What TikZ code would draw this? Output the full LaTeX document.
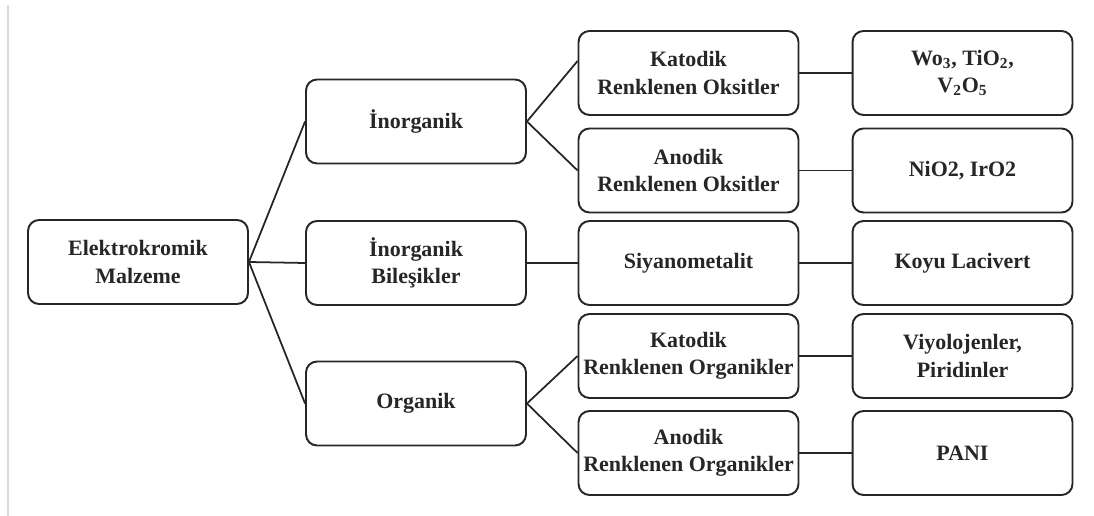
\documentclass[tikz,border=0pt]{standalone}
\usepackage{fontspec}
\setmainfont{Liberation Serif}

\tikzset{
  kutu/.style={draw=black!85, line width=1.1pt, rounded corners=0.22cm,
    minimum width=4.4cm, minimum height=1.68cm, inner sep=1pt, align=center,
    text=black!85, font=\bfseries\fontsize{12.5}{15.4}\selectfont},
  bag/.style={draw=black!85, line width=1pt}
}

\begin{document}
\begin{tikzpicture}[x=0.02cm, y=-0.02cm]
                % Page frame
                \useasboundingbox (0,0) rectangle (1094,516);
                \draw[black!15, line width=0.6pt] (8,5) -- (8,516);

                % Root
                \node[kutu] (malzeme) at (138,262) {Elektrokromik\\Malzeme};

                % First level
                \node[kutu] (inorg) at (416,121.5) {İnorganik};
                \node[kutu] (bilesik) at (416,263) {İnorganik\\Bileşikler};
                \node[kutu] (organik) at (416,403.5) {Organik};

                % Second level
                \node[kutu] (katoks) at (688.5,73) {Katodik\\Renklenen Oksitler};
                \node[kutu] (anoks) at (688.5,170.5) {Anodik\\Renklenen Oksitler};
                \node[kutu] (siyano) at (688.5,263) {Siyanometalit};
                \node[kutu] (katorg) at (688.5,356) {Katodik\\Renklenen Organikler};
                \node[kutu] (anorg) at (688.5,453) {Anodik\\Renklenen Organikler};

                % Examples
                \node[kutu] (wo) at (962.5,73) {Wo\textsubscript{3}, TiO\textsubscript{2},\\V\textsubscript{2}O\textsubscript{5}};
                \node[kutu] (nio) at (962.5,170.5) {NiO2, IrO2};
                \node[kutu] (koyu) at (962.5,263) {Koyu Lacivert};
                \node[kutu] (viyo) at (962.5,356) {Viyolojenler,\\Piridinler};
                \node[kutu] (pani) at (962.5,453) {PANI};

                % Connectors
                \foreach \n in {inorg, bilesik, organik} {
                    \draw[bag] (malzeme.east) -- (\n.west);
                }
                \draw[bag] (inorg.east) -- ([yshift=0.24cm]katoks.west);
                \draw[bag] (inorg.east) -- (anoks.west);
                \draw[bag] (bilesik.east) -- (siyano.west);
                \draw[bag] (organik.east) -- (katorg.west);
                \draw[bag] (organik.east) -- (anorg.west);
                \draw[bag] (katoks) -- (wo);
                \draw[bag] (anoks) -- (nio);
                \draw[bag] (siyano) -- (koyu);
                \draw[bag] (katorg) -- (viyo);
                \draw[bag] (anorg) -- (pani);
\end{tikzpicture}
\end{document}
